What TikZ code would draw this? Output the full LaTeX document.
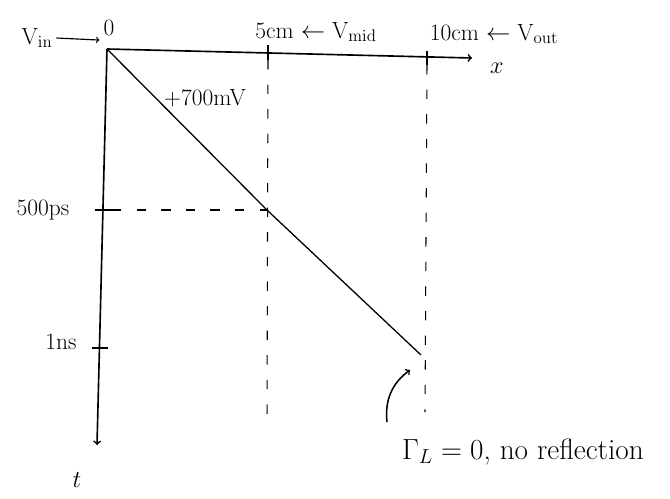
\documentclass[tikz,border=0pt]{standalone}
\usepackage{amsmath,amssymb}
\usepackage{tikz}
\usepackage{xcolor}

\begin{document}
\begin{tikzpicture}[x=0.03cm,y=-0.03cm,font=\fontsize{20}{22}\selectfont]
  \useasboundingbox (0,0) rectangle (670,498);
  \tikzset{axisline/.style={line width=1.4pt},
           guide/.style={line width=0.9pt,dash pattern=on 8pt off 13pt}}
  % origin, axis ends and ticks
  \coordinate (O) at (107,49);
  \coordinate (xend) at (472,58);
  \coordinate (tend) at (97,445);
  \coordinate (fivetop) at (268,45);  \coordinate (fivebot) at (268,60);
  \coordinate (tentop) at (427,51);   \coordinate (tenbot) at (427,65);
  \coordinate (psleft) at (95,210);   \coordinate (psright) at (112,210);
  \coordinate (nsleft) at (92,348);   \coordinate (nsright) at (108,348);
  \draw[axisline,->] (O) -- (xend);
  \draw[axisline,->] (O) -- (tend);
  \draw[line width=1.1pt] (fivetop) -- (fivebot);
  \draw[line width=1.1pt] (tentop) -- (tenbot);
  \draw[line width=1.1pt] (psleft) -- (psright);
  \draw[line width=1.1pt] (nsleft) -- (nsright);
  % dashed guides
  \coordinate (mid) at (267,210);
  \draw[guide] (fivebot) -- (267,422);
  \draw[guide] (tenbot) -- (425,412);
  \draw[guide] (psright) -- (mid);
  % wavefront
  \coordinate (far) at (421,355);
  \draw[line width=1.1pt] (O) -- (mid) -- (far);
  % labels
  \node (vin) at (37,38) {V$_{\mathrm{in}}$};
  \node (zero) at (109,28) {0};
  \draw[line width=1pt,->] (vin.east) -- (zero.south west);
  \node (five) at (316,32) {5cm $\leftarrow$ V$_{\mathrm{mid}}$};
  \node (ten) at (494,34) {10cm $\leftarrow$ V$_{\mathrm{out}}$};
  \node (xlab) at (497,68) {$x$};
  \node (tlab) at (77,480) {$t$};
  \node (ps) at (43,210) {500ps};
  \node (ns) at (61,342) {1ns};
  \node (volt) at (205,98) {+700mV};
  \node[font=\fontsize{25}{27}\selectfont] (gamma) at (523,452) {$\Gamma_L=0$, no reflection};
  % pointer to the far end
  \coordinate (gstart) at (387,422);
  \coordinate (gtip) at (410,370);
  \draw[line width=1.3pt,->] (gstart) to[bend left=30] (gtip);
\end{tikzpicture}
\end{document}
